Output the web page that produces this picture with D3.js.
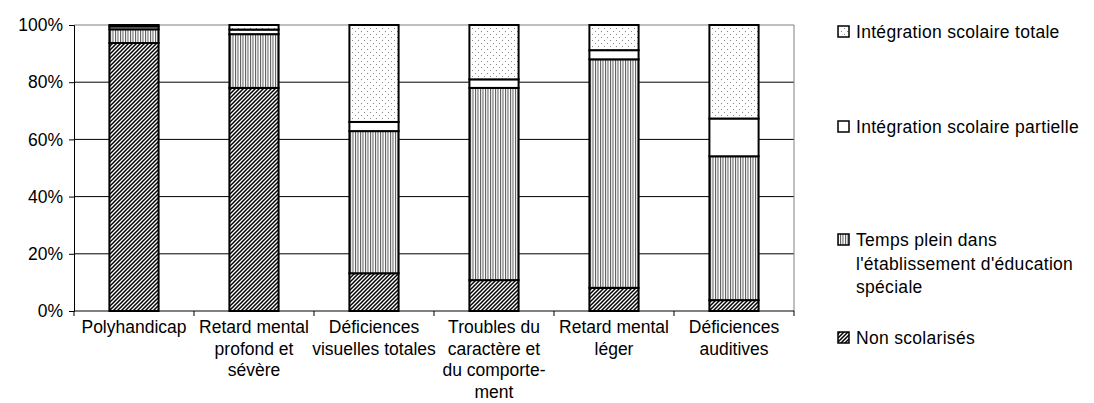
<!DOCTYPE html>
<html><head><meta charset="utf-8">
<script src="https://cdn.jsdelivr.net/npm/d3@7"></script>
<style>
body{margin:0;background:#fff;}
text{font-family:"Liberation Sans",Arial,sans-serif;fill:#000;}
</style></head>
<body><svg id="c" width="1094" height="403"></svg>
<script>
const categories = ["Polyhandicap","Retard mental profond et sévère","Déficiences visuelles totales","Troubles du caractère et du comportement","Retard mental léger","Déficiences auditives"];
const categoryLabelLines = [["Polyhandicap"],["Retard mental","profond et","sévère"],["Déficiences","visuelles totales"],["Troubles du","caractère et","du comporte-","ment"],["Retard mental","léger"],["Déficiences","auditives"]];
const seriesNames = ["Non scolarisés","Temps plein dans l'établissement d'éducation spéciale","Intégration scolaire partielle","Intégration scolaire totale"];
const nonScolarises = [93.7, 78.0, 13.2, 10.8, 8.1, 3.8];
const tempsPlein = [4.8, 18.8, 49.7, 67.2, 79.9, 50.3];
const partielle = [1.0, 1.6, 3.2, 3.0, 3.2, 13.2];
const totale = [0.5, 1.6, 33.9, 19.0, 8.8, 32.7];
const yTicks = [0, 0.2, 0.4, 0.6, 0.8, 1.0];
const legendLines = [["Intégration scolaire totale"],["Intégration scolaire partielle"],["Temps plein dans","l'établissement d'éducation","spéciale"],["Non scolarisés"]];

const svg = d3.select("#c");
const L=74, R=794, T=25, B=311;
const defs = svg.append("defs");
// diagonal hatch
const p1 = defs.append("pattern").attr("id","diag").attr("patternUnits","userSpaceOnUse").attr("width",4).attr("height",4);
p1.append("rect").attr("width",4).attr("height",4).attr("fill","#fff");
p1.append("path").attr("d","M-1,1 l2,-2 M0,4 l4,-4 M3,5 l2,-2").attr("stroke","#000").attr("stroke-width",1.5);
// vertical lines
const p2 = defs.append("pattern").attr("id","vert").attr("patternUnits","userSpaceOnUse").attr("width",2.5).attr("height",4);
p2.append("rect").attr("width",2.5).attr("height",4).attr("fill","#fff");
p2.append("rect").attr("x",0).attr("width",1).attr("height",4).attr("fill","#555");
// dots
const p3 = defs.append("pattern").attr("id","dots").attr("patternUnits","userSpaceOnUse").attr("width",6).attr("height",6);
p3.append("rect").attr("width",6).attr("height",6).attr("fill","#fff");
p3.append("rect").attr("x",1).attr("y",1).attr("width",1).attr("height",1).attr("fill","#888");
p3.append("rect").attr("x",4).attr("y",4).attr("width",1).attr("height",1).attr("fill","#888");
const fills = ["url(#diag)","url(#vert)","#fff","url(#dots)"];

const x = d3.scaleBand().domain(categories).range([L,R]).paddingInner(0.59).paddingOuter(0.295);
const xOuter = d3.scaleBand().domain(categories).range([L,R]);
const y = d3.scaleLinear().domain([0,1]).range([B,T]);

// gridlines
svg.append("g").selectAll("line").data(yTicks.slice(1,-1)).join("line")
  .attr("x1",L).attr("x2",R).attr("y1",d=>y(d)).attr("y2",d=>y(d)).attr("stroke","#000").attr("stroke-width",1);
svg.append("line").attr("x1",L).attr("x2",R).attr("y1",T).attr("y2",T).attr("stroke","#808080");
svg.append("line").attr("x1",R).attr("x2",R).attr("y1",T).attr("y2",B).attr("stroke","#808080");

// data
const rows = categories.map((c,i)=>{
  const tot = nonScolarises[i]+tempsPlein[i]+partielle[i]+totale[i];
  return {cat:c, s0:nonScolarises[i]/tot, s1:tempsPlein[i]/tot, s2:partielle[i]/tot, s3:totale[i]/tot};
});
const stack = d3.stack().keys(["s0","s1","s2","s3"])(rows);
stack.forEach((layer,k)=>{
  svg.append("g").selectAll("rect").data(layer).join("rect")
    .attr("x",d=>x(d.data.cat)).attr("width",x.bandwidth())
    .attr("y",d=>y(d[1])).attr("height",d=>y(d[0])-y(d[1]))
    .attr("fill",fills[k]).attr("stroke","#000").attr("stroke-width",2);
});

// axes
const yAxis = svg.append("g").attr("transform",`translate(${L},0)`)
  .call(d3.axisLeft(y).tickValues(yTicks).tickFormat(d3.format(".0%")).tickSizeOuter(0).tickSize(5).tickPadding(6));
yAxis.select(".domain").attr("stroke","#000");
yAxis.selectAll("text").style("font-size","17.5px").attr("fill","#000");
const xAxisG = svg.append("g").attr("transform",`translate(0,${B})`);
xAxisG.append("line").attr("x1",L).attr("x2",R).attr("stroke","#000");
xAxisG.selectAll("line.tk").data(categories.concat(["end"])).join("line").attr("class","tk")
  .attr("x1",(d,i)=>L+i*xOuter.step()).attr("x2",(d,i)=>L+i*xOuter.step()).attr("y1",0).attr("y2",5).attr("stroke","#000");
categories.forEach((c,i)=>{
  const t = xAxisG.append("text").attr("text-anchor","middle").style("font-size","17.5px")
    .attr("x",xOuter(c)+xOuter.bandwidth()/2);
  categoryLabelLines[i].forEach((ln,j)=>{
    t.append("tspan").attr("x",xOuter(c)+xOuter.bandwidth()/2).attr("y",22+j*21.5).text(ln);
  });
});

// legend
const legY = [32,127,240,338];
const legFill = ["url(#dots)","#fff","url(#vert)","url(#diag)"];
legendLines.forEach((lines,i)=>{
  svg.append("rect").attr("x",838).attr("y",legY[i]-6).attr("width",11).attr("height",11)
    .attr("fill",legFill[i]).attr("stroke","#000").attr("stroke-width",1.5);
  const t = svg.append("text").style("font-size","17.5px").style("letter-spacing","0.3px");
  lines.forEach((ln,j)=>{
    t.append("tspan").attr("x",856).attr("y",legY[i]+6+j*23.5).text(ln);
  });
});
</script></body></html>
